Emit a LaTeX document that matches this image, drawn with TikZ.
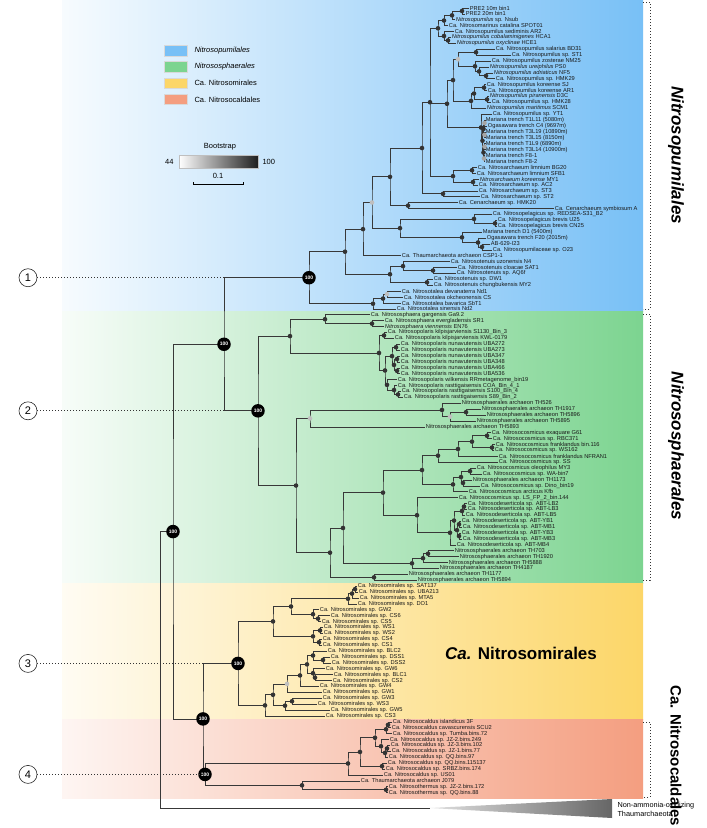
\documentclass[tikz,border=0pt]{standalone}
\usepackage{fontspec}
\setmainfont{Liberation Sans}
\usetikzlibrary{calc}

\definecolor{cpum}{RGB}{120,192,246}
\definecolor{csph}{RGB}{124,212,144}
\definecolor{cmir}{RGB}{252,214,104}
\definecolor{ccal}{RGB}{244,158,128}

\pgfdeclarelayer{back}
\pgfdeclarelayer{lines}
\pgfsetlayers{back,lines,main}

\tikzset{
  br/.style={draw=black!78, line width=0.8pt},
  lab/.style={anchor=west, inner sep=0.7pt, text=black!90, font=\fontsize{5.7}{6}\selectfont},
  big/.style={circle, fill=black, text=white, inner sep=0pt, minimum size=13.5pt, font=\bfseries\fontsize{5}{5}\selectfont},
  num/.style={circle, draw=black!85, line width=0.6pt, fill=white, minimum size=18pt, inner sep=0pt, font=\fontsize{11}{11}\selectfont},
  box/.style={draw=black!15, minimum width=23pt, minimum height=10.5pt, inner sep=0pt},
  leg/.style={anchor=west, font=\fontsize{7.5}{8}\selectfont},
  side/.style={rotate=-90, font=\bfseries\fontsize{17}{18}\selectfont},
  brk/.style={dotted, line width=1pt, black!80},
}

% leaf: name, tip x, row, text
\newcommand\lf[4]{%
  \coordinate (#1) at (#2,{8+5.9*#3});
  \node[lab] (#1t) at (#1) {#4};}
% junction: [shade], name, x, upper child, lower child
\newcommand\jn[5][80]{%
  \path (#4) -- coordinate[pos=.5] (#2m) (#5);
  \coordinate (#2) at (perpendicular cs: horizontal line through={(#2m)}, vertical line through={(#3,0)});
  \begin{pgfonlayer}{lines}\draw[br] (#4) -| (#2) |- (#5);\end{pgfonlayer}
  \fill[black!#1] (#2) circle (2.3);}
% extra child
\newcommand\jc[2]{\begin{pgfonlayer}{lines}\draw[br] (#1 |- #2) -- (#2);\end{pgfonlayer}}

\begin{document}
\begin{tikzpicture}[x=1pt,y=-1pt]
\useasboundingbox (0,0) rectangle (707,828);

% bands
\begin{pgfonlayer}{back}
  \fill[white] (0,0) rectangle (707,828);
  \shade[left color=cpum!6, right color=cpum] (62,0) rectangle (643,311.8);
  \shade[left color=csph!6, right color=csph] (62,311.8) rectangle (643,583.3);
  \shade[left color=cmir!8, right color=cmir] (62,583.3) rectangle (643,719);
  \shade[left color=ccal!10, right color=ccal] (62,719) rectangle (643,798);
\end{pgfonlayer}

% legend
\foreach \c/\t [count=\i from 0] in {cpum/{\textit{Nitrosopumilales}}, csph/{\textit{Nitrososphaerales}}, cmir/{Ca. Nitrosomirales}, ccal/{Ca. Nitrosocaldales}} {
  \node[box, fill=\c] (lb\i) at (176,{50.5+16.3*\i}) {};
  \node[leg] (lt\i) at (191,{50.5+16.3*\i}) {\t};
}
\node[font=\fontsize{7.5}{8}\selectfont] (bs) at (220,147) {Bootstrap};
\shade[left color=white, right color=black!88, draw=black!25] (179,155) rectangle (258,168);
\node[leg, anchor=east] (bmin) at (177,161.5) {44};
\node[leg] (bmax) at (259,161.5) {100};
\node[font=\fontsize{7.5}{8}\selectfont] (sc) at (218,176) {0.1};
\draw[line width=0.8pt] (193,182) -- (193,184.5) -- (243,184.5) -- (243,182);

% Nitrosopumilales
\lf{pa}{469}{0}{PRE2 10m bin1}
\lf{pb}{465}{1}{PRE2 20m bin1}
\lf{nsub}{455}{2}{\textit{Nitrosopumilus} sp. Nsub}
\lf{spot}{448}{3}{Ca. Nitrosomarinus catalina SPOT01}
\lf{ar2}{454}{4}{Ca. Nitrosopumilus sediminis AR2}
\lf{hca}{451}{5}{\textit{Nitrosopumilus cobalaminigenes} HCA1}
\lf{hce}{456}{6}{\textit{Nitrosopumilus oxyclinae} HCE1}
\lf{bd31}{495}{7}{Ca. Nitrosopumilus salarius BD31}
\lf{st1}{511}{8}{Ca. Nitrosopumilus sp. ST1}
\lf{nm25}{491}{9}{Ca. Nitrosopumilus zosterae NM25}
\lf{ps0}{489}{10}{\textit{Nitrosopumilus ureiphilus} PS0}
\lf{nf5}{493}{11}{\textit{Nitrosopumilus adriaticus} NF5}
\lf{hmkb}{495}{12}{Ca. Nitrosopumilus sp. HMK29}
\lf{sj}{486}{13}{Ca. Nitrosopumilus koreense SJ}
\lf{ar1}{487}{14}{Ca. Nitrosopumilus koreense AR1}
\lf{d3c}{489}{15}{\textit{Nitrosopumilus piranensis} D3C}
\lf{hmka}{491}{16}{Ca. Nitrosopumilus sp. HMK28}
\lf{scm}{486}{17}{\textit{Nitrosopumilus maritimus} SCM1}
\lf{yt1}{492}{18}{Ca. Nitrosopumilus sp. YT1}
\lf{ma}{485}{19}{Mariana trench T1L11 (5080m)}
\lf{mb}{487}{20}{Ogasawara trench C4 (9697m)}
\lf{mc}{485}{21}{Mariana trench T3L19 (10890m)}
\lf{md}{485}{22}{Mariana trench T3L15 (8150m)}
\lf{me}{485}{23}{Mariana trench T1L9 (6890m)}
\lf{mf}{485}{24}{Mariana trench T3L14 (10900m)}
\lf{mg}{485}{25}{Mariana trench F8-1}
\lf{mh}{485}{26}{Mariana trench F8-2}
\lf{bg20}{477}{27}{Ca. Nitrosarchaeum limnium BG20}
\lf{sfb1}{476}{28}{Ca. Nitrosarchaeum limnium SFB1}
\lf{my1}{479}{29}{\textit{Nitrosarchaeum koreense} MY1}
\lf{ac2}{478}{30}{Ca. Nitrosarchaeum sp. AC2}
\lf{st3}{478}{31}{Ca. Nitrosarchaeum sp. ST3}
\lf{st2}{480}{32}{Ca. Nitrosarchaeum sp. ST2}
\lf{hmkc}{458}{33}{Ca. Cenarchaeum sp. HMK20}
\lf{csym}{554}{34}{Ca. Cenarchaeum symbiosum A}
\lf{rsea}{492}{35}{Ca. Nitrosopelagicus sp. REDSEA-S31\_B2}
\lf{u25}{497}{36}{Ca. Nitrosopelagicus brevis U25}
\lf{cn25}{497}{37}{Ca. Nitrosopelagicus brevis CN25}
\lf{dia}{482}{38}{Mariana trench D1 (5400m)}
\lf{fia}{486}{39}{Ogasawara trench F20 (2015m)}
\lf{ab}{490}{40}{AB-629-I23}
\lf{o23}{492}{41}{Ca. Nitrosopumilaceae sp. O23}
\lf{csp}{401}{42}{Ca. Thaumarchaeota archaeon CSP1-1}
\lf{nfour}{450}{43}{Ca. Nitrosotenuis uzonensis N4}
\lf{sat}{457}{44}{Ca. Nitrosotenuis cloacae SAT1}
\lf{aqf}{456}{45}{Ca. Nitrosotenuis sp. AQ6f}
\lf{dw}{433}{46}{Ca. Nitrosotenuis sp. DW1}
\lf{mytwo}{433}{47}{Ca. Nitrosotenuis chungbukensis MY2}
\lf{nda}{401}{48}{Ca. Nitrosotalea devanaterra Nd1}
\lf{cs}{403}{49}{Ca. Nitrosotalea okcheonensis CS}
\lf{sbt}{401}{50}{Ca. Nitrosotalea bavarica SbT1}
\lf{ndb}{396}{51}{Ca. Nitrosotalea sinensis Nd2}

\jn{jpre}{462}{pa}{pb}
\jn{ja}{452}{jpre}{nsub}
\jn{jb}{444}{ja}{spot}
\jn{jc}{448}{hca}{hce}
\jn{jd}{444}{ar2}{jc}
\jn{jtop}{438}{jb}{jd}
\jn{jst}{476}{bd31}{st1}
\jn{jz1}{486}{nf5}{hmkb}
\jn{jz2}{479}{ps0}{jz1}
\jn{jz}{475}{nm25}{jz2}
\jn[25]{jone}{458}{jst}{jz}
\jn{jk1}{484}{sj}{ar1}
\jn{jk2}{487}{d3c}{hmka}
\jn{jk3}{474}{jk1}{jk2}
\jn{jk}{471}{jk3}{scm}
\jn{jtwo}{453}{jone}{jk}
\jn[35]{jm1}{484.5}{ma}{mb}
\jn[35]{jm2}{484.5}{mc}{md}
\jn[35]{jm3}{484.5}{me}{mf}
\jn[35]{jm4}{484}{mg}{mh}
\jn{jm5}{483.5}{jm1}{jm2}
\jn{jm6}{483.5}{jm3}{jm4}
\jn{jm}{482.5}{jm5}{jm6}
\jn{jym}{481}{yt1}{jm}
\jn{jthree}{447}{jtwo}{jym}
\jn{jl1}{472}{bg20}{sfb1}
\jn{jl2}{473}{my1}{ac2}
\jn{jnar}{453}{jl1}{jl2}
\jn{jfour}{430}{jtop}{jnar} \jc{jfour}{jthree}
\jn{js}{443}{st3}{st2}
\jn{jfive}{422}{jfour}{js}
\jn{jcen}{408}{hmkc}{csym}
\jn{jsix}{390}{jfive}{jcen}
\jn{jpb}{495}{u25}{cn25}
\jn{jpel}{474}{rsea}{jpb}
\jn{jda}{482}{ab}{o23}
\jn{jdb}{478}{fia}{jda}
\jn{jdc}{462}{dia}{jdb}
\jn{jpa}{400}{jpel}{jdc}
\jn[25]{jbone}{372}{jsix}{jpa}
\jn{jbtwo}{363}{jbone}{csp}
\jn{jt1}{433}{sat}{aqf}
\jn{jt2}{403}{nfour}{jt1}
\jn{jt3}{427}{dw}{mytwo}
\jn{jten}{390}{jt2}{jt3}
\jn{jbthree}{345}{jbtwo}{jten}
\jn[25]{jo1}{387}{nda}{cs}
\jn{jo2}{383}{jo1}{sbt}
\jn{jtal}{373}{jo2}{ndb}
\jn{cblue}{309}{jbthree}{jtal}

% Nitrososphaerales
\lf{ga}{370}{52}{Ca. Nitrososphaera gargensis Ga9.2}
\lf{sr1}{384}{53}{Ca. Nitrososphaera evergladensis SR1}
\lf{en76}{384}{54}{\textit{Nitrososphaera viennensis} EN76}
\lf{kila}{387}{55}{Ca. Nitrosopolaris kilpisjarviensis S1130\_Bin\_3}
\lf{kilb}{394}{56}{Ca. Nitrosopolaris kilpisjarviensis KWL-0179}
\lf{ua}{400}{57}{Ca. Nitrosopolaris nunavutensis UBA272}
\lf{ub}{400}{58}{Ca. Nitrosopolaris nunavutensis UBA273}
\lf{uc}{400}{59}{Ca. Nitrosopolaris nunavutensis UBA347}
\lf{ud}{400}{60}{Ca. Nitrosopolaris nunavutensis UBA348}
\lf{ue}{400}{61}{Ca. Nitrosopolaris nunavutensis UBA466}
\lf{uf}{400}{62}{Ca. Nitrosopolaris nunavutensis UBA536}
\lf{wil}{397}{63}{Ca. Nitrosopolaris wilkensis RRmetagenome\_bin19}
\lf{ra}{397}{64}{Ca. Nitrosopolaris rasttigaisensis COA\_Bin\_4\_1}
\lf{rb}{401}{65}{Ca. Nitrosopolaris rasttigaisensis S100\_Bin\_4}
\lf{rc}{403}{66}{Ca. Nitrosopolaris rasttigaisensis S89\_Bin\_2}
\lf{tha}{461}{67}{Nitrososphaerales archaeon TH526}
\lf{thb}{481}{68}{Nitrososphaerales archaeon TH1917}
\lf{thc}{486}{69}{Nitrososphaerales archaeon TH5896}
\lf{thd}{476}{70}{Nitrososphaerales archaeon TH5895}
\lf{the}{425}{71}{Nitrososphaerales archaeon TH5893}
\lf{gsix}{491}{72}{Ca. Nitrosocosmicus exaquare G61}
\lf{rbc}{492}{73}{Ca. Nitrosocosmicus sp. RBC371}
\lf{fbin}{495}{74}{Ca. Nitrosocosmicus franklandus bin.116}
\lf{ws}{494}{75}{Ca. Nitrosocosmicus sp. WS162}
\lf{nfr}{498}{76}{Ca. Nitrosocosmicus franklandus NFRAN1}
\lf{ss}{498}{77}{Ca. Nitrosocosmicus sp. SS}
\lf{mythree}{476}{78}{Ca. Nitrosocosmicus oleophilus MY3}
\lf{wa}{482}{79}{Ca. Nitrosocosmicus sp. WA-bin7}
\lf{thf}{472}{80}{Nitrososphaerales archaeon TH1173}
\lf{dino}{480}{81}{Ca. Nitrosocosmicus sp. Dino\_bin19}
\lf{kfb}{468}{82}{Ca. Nitrosocosmicus arcticus Kfb}
\lf{ls}{458}{83}{Ca. Nitrosocosmicus sp. LS\_FP\_2\_bin.144}
\lf{lba}{467}{84}{Ca. Nitrosodeserticola sp. ABT-LB2}
\lf{lbb}{467}{85}{Ca. Nitrosodeserticola sp. ABT-LB3}
\lf{lbc}{465}{86}{Ca. Nitrosodeserticola sp. ABT-LB5}
\lf{yba}{461}{87}{Ca. Nitrosodeserticola sp. ABT-YB1}
\lf{mba}{462}{88}{Ca. Nitrosodeserticola sp. ABT-MB1}
\lf{ybb}{461}{89}{Ca. Nitrosodeserticola sp. ABT-YB3}
\lf{mbb}{462}{90}{Ca. Nitrosodeserticola sp. ABT-MB3}
\lf{mbc}{456}{91}{Ca. Nitrosodeserticola sp. ABT-MB4}
\lf{thg}{454}{92}{Nitrososphaerales archaeon TH703}
\lf{thh}{459}{93}{Nitrososphaerales archaeon TH1920}
\lf{thi}{448}{94}{Nitrososphaerales archaeon TH5888}
\lf{thj}{439}{95}{Nitrososphaerales archaeon TH4187}
\lf{thk}{408}{96}{Nitrososphaerales archaeon TH1177}
\lf{thl}{417}{97}{Nitrososphaerales archaeon TH5894}

\jn{jev}{372}{sr1}{en76}
\jn{jnso}{325}{ga}{jev}
\jn{jkil}{384}{kila}{kilb}
\jn{ju1}{396}{ua}{ub}
\jn{ju2a}{397}{uc}{ud}
\jn{ju2b}{397}{ue}{uf}
\jn{ju2}{394}{ju2a}{ju2b}
\jn{ju}{392}{ju1}{ju2}
\jn{jr1}{398}{rb}{rc}
\jn{jr}{394}{ra}{jr1}
\jn{jw}{387}{wil}{jr}
\jn{juw}{385}{ju}{jw}
\jn{jpol}{379}{jkil}{juw}
\jn{jga}{290}{jnso}{jpol}
\jn{jth3}{466}{thb}{thc}
\jn[25]{jth2}{450}{jth3}{thd}
\jn{jth1}{442}{tha}{jth2}
\jn[25]{jth}{310}{jth1}{the}
\jn{jc1}{487}{gsix}{rbc}
\jn{jc2}{492}{fbin}{ws}
\jn{jc3}{472}{jc1}{jc2}
\jn{jc4}{458}{jc3}{nfr}
\jn{jc5}{438}{jc4}{ss}
\jn{jo78}{470}{mythree}{wa}
\jn{jo80}{463}{thf}{dino}
\jn{joo}{461}{jo78}{jo80}
\jn{jole}{453}{joo}{kfb}
\jn{jcos}{422}{jc5}{jole}
\jn{jd4a}{464}{lba}{lbb}
\jn{jd4}{462}{jd4a}{lbc}
\jn{jd5a}{459}{yba}{mba}
\jn{jd5b}{459}{ybb}{mbb}
\jn{jd5}{457}{jd5a}{jd5b}
\jn{jd3}{454}{jd4}{jd5}
\jn{jd2}{450}{jd3}{mbc}
\jn{jdes}{417}{ls}{jd2}
\jn{jcd}{383}{jcos}{jdes}
\jn{jt4a}{428}{thg}{thh}
\jn{jt4b}{423}{jt4a}{thi}
\jn{jt4}{412}{jt4b}{thj}
\jn{jt5}{374}{thk}{thl}
\jn{jg2a}{343}{jcd}{jt4}
\jn{jg2}{330}{jg2a}{jt5}
\jn{jgb}{296}{jth}{jg2}
\jn{cgreen}{258}{jga}{jgb}

% Ca. Nitrosomirales
\lf{ya}{357}{98}{Ca. Nitrosomirales sp. SAT137}
\lf{yb}{358}{99}{Ca. Nitrosomirales sp. UBA213}
\lf{yc}{359}{100}{Ca. Nitrosomirales sp. MTA5}
\lf{yd}{357}{101}{Ca. Nitrosomirales sp. DO1}
\lf{ye}{319}{102}{Ca. Nitrosomirales sp. GW2}
\lf{yf}{330}{103}{Ca. Nitrosomirales sp. CS6}
\lf{yg}{321}{104}{Ca. Nitrosomirales sp. CS5}
\lf{yh}{323}{105}{Ca. Nitrosomirales sp. WS1}
\lf{yi}{323}{106}{Ca. Nitrosomirales sp. WS2}
\lf{yj}{322}{107}{Ca. Nitrosomirales sp. CS4}
\lf{yk}{322}{108}{Ca. Nitrosomirales sp. CS1}
\lf{yl}{327}{109}{Ca. Nitrosomirales sp. BLC2}
\lf{ym}{330}{110}{Ca. Nitrosomirales sp. DSS1}
\lf{yn}{331}{111}{Ca. Nitrosomirales sp. DSS2}
\lf{yo}{325}{112}{Ca. Nitrosomirales sp. GW6}
\lf{yp}{333}{113}{Ca. Nitrosomirales sp. BLC1}
\lf{yq}{332}{114}{Ca. Nitrosomirales sp. CS2}
\lf{yr}{319}{115}{Ca. Nitrosomirales sp. GW4}
\lf{ys}{322}{116}{Ca. Nitrosomirales sp. GW1}
\lf{yt}{322}{117}{Ca. Nitrosomirales sp. GW3}
\lf{yu}{317}{118}{Ca. Nitrosomirales sp. WS3}
\lf{yv}{330}{119}{Ca. Nitrosomirales sp. GW5}
\lf{yw}{325}{120}{Ca. Nitrosomirales sp. CS3}

\jn{jy1a}{355}{ya}{yb}
\jn{jy1b}{352}{jy1a}{yc}
\jn{jy1}{348}{jy1b}{yd}
\jn{jgwa}{318}{yf}{yg}
\jn{jgw}{313}{ye}{jgwa}
\jn{jy2}{291}{jy1}{jgw}
\jn{jwsa}{320}{yh}{yi}
\jn{jwsb}{319}{yj}{yk}
\jn{jws}{313}{jwsa}{jwsb}
\jn{jy3}{273}{jy2}{jws}
\jn{jb1}{323}{ym}{yn}
\jn{jb2}{313}{yl}{jb1}
\jn{jb3}{315}{yp}{yq}
\jn{jb4}{313}{yo}{jb3}
\jn{jb5}{307}{jb2}{jb4}
\jn{jb6}{300}{jb5}{yr}
\jn[25]{jb7}{287}{jb6}{ys}
\jn{jh1}{292}{yt}{yu}
\jn{jh2}{285}{jh1}{yv}
\jn{jlo}{273}{jb7}{jh2}
\jn{jy5}{265}{jlo}{yw}
\jn{cyel}{238}{jy3}{jy5}

% Ca. Nitrosocaldales
\lf{ka}{392}{121}{Ca. Nitrosocaldus islandicus 3F}
\lf{kb}{391}{122}{Ca. Nitrosocaldus cavascurensis SCU2}
\lf{kc}{392}{123}{Ca. Nitrosocaldus sp. Tumba.bins.72}
\lf{kd}{389}{124}{Ca. Nitrosocaldus sp. JZ-2.bins.249}
\lf{ke}{390}{125}{Ca. Nitrosocaldus sp. JZ-3.bins.102}
\lf{kf}{391}{126}{Ca. Nitrosocaldus sp. JZ-1.bins.77}
\lf{kg}{388}{127}{Ca. Nitrosocaldus sp. QQ.bins.97}
\lf{kh}{387}{128}{Ca. Nitrosocaldus sp. QQ.bins.115137}
\lf{ki}{385}{129}{Ca. Nitrosocaldus sp. SRBZ.bins.174}
\lf{kj}{383}{130}{Ca. Nitrosocaldus sp. US01}
\lf{kk}{360}{131}{Ca. Thaumarchaeota archaeon J079}
\lf{kl}{388}{132}{Ca. Nitrosothermus sp. JZ-2.bins.172}
\lf{km}{388}{133}{Ca. Nitrosothermus sp. QQ.bins.88}

\jn{jq1}{388}{ka}{kb}
\jn{jq2}{386}{jq1}{kc}
\jn{jq3}{387}{ke}{kf}
\jn{jq4}{385}{jq3}{kg}
\jn{jq5}{381}{kd}{jq4}
\jn{jq6}{375}{jq2}{jq5}
\jn{jq7}{382}{kh}{ki}
\jn{jq8}{360}{jq6}{jq7}
\jn{jq9}{348}{jq8}{kj}
\jn{jqn}{386}{kl}{km}
\jn{jq11}{302}{kk}{jqn}
\jn{cred}{205}{jq9}{jq11}

% backbone
\jn{bg}{224}{cblue}{cgreen}
\jn{cy}{203}{cyel}{cred}
\jn{aoa}{173}{bg}{cy}
\coordinate (nonaoa) at (430,808);
\coordinate (rx) at (160,0);
\begin{pgfonlayer}{lines}
  \draw[br] (aoa) -| (rx |- nonaoa) -- (nonaoa);
\end{pgfonlayer}
\shade[left color=black!12, right color=black!60] (nonaoa) -- (612,799) -- (612,818) -- cycle;
\node[anchor=west, align=left, font=\fontsize{7.3}{9}\selectfont] (naoa) at (614,809) {Non-ammonia-oxidizing\\Thaumarchaeota};

\foreach \c in {cblue,cgreen,bg,cyel,cred,cy,aoa}
  \node[big] at (\c) {100};

% clade markers
\coordinate (lx) at (28,0);
\foreach \n/\c/\p in {1/cblue/bg, 2/cgreen/bg, 3/cyel/cy, 4/cred/cy} {
  \node[num] (o\n) at (lx |- \c) {\n};
  \draw[brk] (o\n) -- (\p |- \c);
}

% clade brackets and names
\draw[brk] (643,2) -- (650,2) -- (650,309) -- (643,309);
\draw[brk] (643,314) -- (650,314) -- (650,580) -- (643,580);
\draw[brk] (643,722) -- (650,722) -- (650,797) -- (643,797);
\node[side] (spum) at (676,155) {\textit{Nitrosopumilales}};
\node[side] (ssph) at (676,446) {\textit{Nitrososphaerales}};
\node[side, font=\bfseries\fontsize{15}{16}\selectfont] (scal) at (676,756) {Ca. Nitrosocaldales};
\node[font=\bfseries\fontsize{17}{17}\selectfont] (smir) at (521,653) {\textit{Ca.} Nitrosomirales};
\end{tikzpicture}
\end{document}
